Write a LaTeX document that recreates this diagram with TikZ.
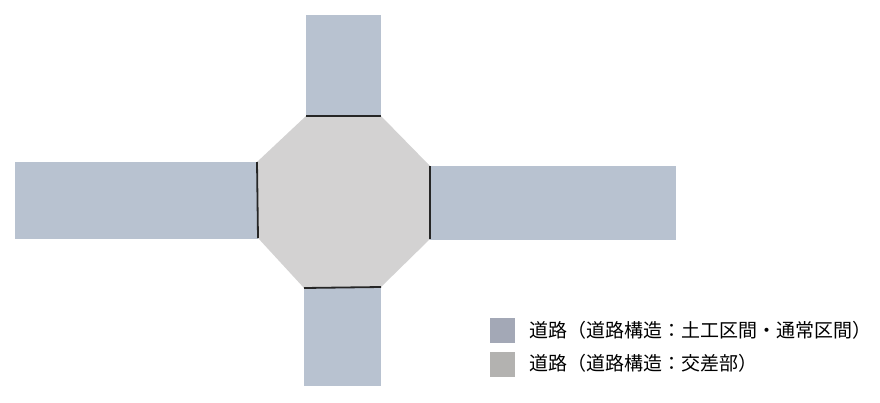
\documentclass[tikz,border=0pt]{standalone}
\usepackage{fontspec}
\newfontfamily\cjk{Noto Sans CJK JP}
\definecolor{armc}{HTML}{B8C2D0}
\definecolor{octc}{HTML}{D3D2D2}
\definecolor{lega}{HTML}{A3A8B6}
\definecolor{legb}{HTML}{B3B2B0}
\tikzset{
  arm/.style={fill=armc, draw=none},
  joint/.style={draw=black!85, line width=1.8pt},
  legbox/.style={minimum width=25pt, minimum height=25pt, inner sep=0pt, draw=none},
  legtext/.style={anchor=west, inner sep=0pt, font=\cjk\fontsize{19pt}{21pt}\selectfont, text=black}
}
\begin{document}
\begin{tikzpicture}[x=1pt,y=-1pt]
\useasboundingbox[fill=white] (0,0) rectangle (880,402);
% arms
\fill[arm] (306,15) rectangle (381,117);
\fill[arm] (15,162) rectangle (258,239);
\fill[arm] (429,166) rectangle (676,240);
\fill[arm] (304,287) rectangle (381,386);
% octagon
\coordinate (a1) at (306,116);
\coordinate (a2) at (381,116);
\coordinate (b1) at (430,166);
\coordinate (b2) at (430,239);
\coordinate (c1) at (381,287);
\coordinate (c2) at (304,288);
\coordinate (d1) at (258,238);
\coordinate (d2) at (257,162);
\fill[octc] (a1) -- (a2) -- (b1) -- (b2) -- (c1) -- (c2) -- (d1) -- (d2) -- cycle;
\draw[joint] (a1) -- (a2);
\draw[joint] (b1) -- (b2);
\draw[joint] (c1) -- (c2);
\draw[joint] (d1) -- (d2);
% legend
\node[legbox, fill=lega] (k1) at (502.5,330.5) {};
\node[legbox, fill=legb] (k2) at (502.5,364.5) {};
\node[legtext] (t1) at (529,330) {道路（道路構造：土工区間・通常区間）};
\node[legtext] (t2) at (529,363) {道路（道路構造：交差部）};
\end{tikzpicture}
\end{document}
